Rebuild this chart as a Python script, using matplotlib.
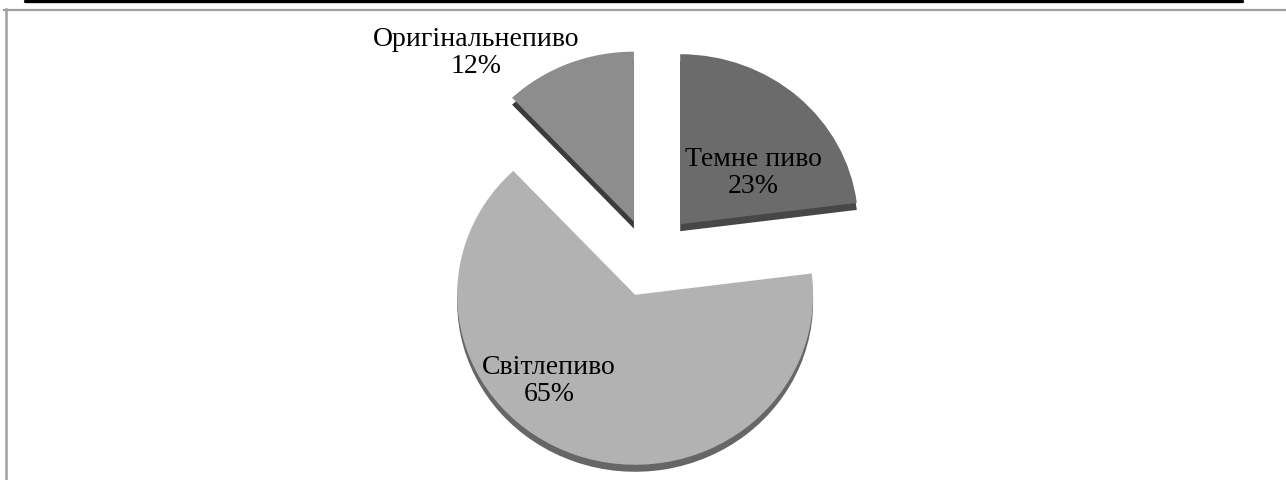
import matplotlib

matplotlib.use("Agg")
import matplotlib.pyplot as plt

# beer sales structure, per cent
CATEGORIES = ["Оригінальнепиво", "Світлепиво", "Темне пиво"]
SHARES = [12, 65, 23]
EXPLODE = [0.23, 0.23, 0.265]  # fraction of the radius
TOP_COLORS = ["#8d8d8d", "#b2b2b2", "#6b6b6b"]
SIDE_COLORS = ["#3b3b3b", "#666666", "#474747"]
LABEL_POS = [(476, 53), (549, 381), (753, 173)]

W, H = 1286, 481
KY = 0.955  # vertical squash of the disc
R = 178


def to_data(x, y):
    return x, (H - y) / KY


fig = plt.figure(figsize=(W / 100, H / 100), dpi=100)
ax = fig.add_axes([0, 0, 1, 1])

cx, cy = to_data(649, 259)
depth = 7 / KY
offsets = [e * R for e in EXPLODE]

# side faces first, then the top faces over them
ax.pie(SHARES, explode=offsets, colors=SIDE_COLORS, startangle=90,
       radius=R, center=(cx, cy - depth), wedgeprops=dict(linewidth=0))
ax.pie(SHARES, explode=offsets, colors=TOP_COLORS, startangle=90,
       radius=R, center=(cx, cy), wedgeprops=dict(linewidth=0))

for name, share, (lx, ly) in zip(CATEGORIES, SHARES, LABEL_POS):
    tx, ty = to_data(lx, ly)
    ax.text(tx, ty, f"{name}\n{share}%", ha="center", va="center",
            fontsize=20, family="Liberation Serif", linespacing=1.15,
            color="black")

# frame around the chart area
ax.plot(*zip(to_data(25, 1.5), to_data(1242, 1.5)), color="black",
        linewidth=2.4, solid_capstyle="round")
ax.plot(*zip(to_data(4, 10.5), to_data(W, 10.5)), color="#a0a0a0",
        linewidth=1.6)
ax.plot(*zip(to_data(6, 10), to_data(6, H)), color="#a0a0a0",
        linewidth=1.8)

ax.set_aspect("auto")
ax.set_xlim(0, W)
ax.set_ylim(0, H / KY)
ax.axis("off")

fig.savefig("out.png", dpi=100)
